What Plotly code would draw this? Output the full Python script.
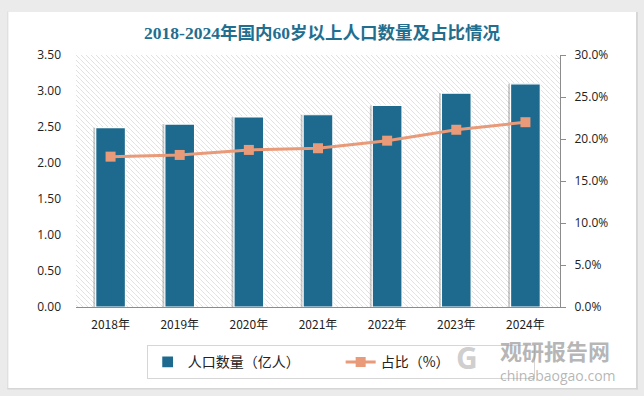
import base64
import plotly.graph_objects as go

years = ["2018年", "2019年", "2020年", "2021年", "2022年", "2023年", "2024年"]
population = [2.49, 2.54, 2.64, 2.67, 2.80, 2.97, 3.10]   # 亿人
share = [17.9, 18.1, 18.7, 18.9, 19.8, 21.1, 22.0]         # %
left_ticks = [0, 0.5, 1.0, 1.5, 2.0, 2.5, 3.0, 3.5]
right_ticks = [0, 5, 10, 15, 20, 25, 30]
right_labels = ["0.0%", "5.0%", "10.0%", "15.0%", "20.0%", "25.0%", "30.0%"]

BAR = "#1d6a8e"
LINE = "#e99a78"
CJK = "Noto Sans CJK SC, Open Sans, sans-serif"
NUM = "Open Sans, Noto Sans CJK SC, sans-serif"
OUT = "#ebebeb"

svg = ("<svg xmlns='http://www.w3.org/2000/svg' width='484' height='252'>"
       "<defs><pattern id='p' width='5' height='5' patternUnits='userSpaceOnUse'>"
       "<path d='M0,0 L5,5 M-1,4 L1,6 M4,-1 L6,1' stroke='#cfcfcf' stroke-width='0.9' "
       "stroke-dasharray='1,0.6'/>"
       "</pattern></defs><rect width='100%' height='100%' fill='white'/>"
       "<rect width='100%' height='100%' fill='url(#p)'/></svg>")
bg_src = "data:image/svg+xml;base64," + base64.b64encode(svg.encode()).decode()

fig = go.Figure()
# soft bar shadow
fig.add_trace(go.Bar(x=years, y=population, width=0.43, offset=-0.25,
                     marker=dict(color="rgba(60,60,60,0.28)", line=dict(width=0)),
                     showlegend=False, hoverinfo="skip"))
fig.add_trace(go.Bar(x=years, y=population, name="人口数量（亿人）", width=0.43, offset=-0.215,
                     marker=dict(color=BAR, line=dict(color="white", width=1.2))))
fig.add_trace(go.Scatter(x=years, y=share, name="占比（%）", yaxis="y2", mode="lines+markers",
                         line=dict(color=LINE, width=3),
                         marker=dict(symbol="square", size=10, color=LINE)))


def strip(x0, x1, y0, y1, color):
    return dict(type="rect", xref="paper", yref="paper", x0=x0, x1=x1, y0=y0, y1=y1,
                line=dict(width=0), fillcolor=color, layer="below")


fig.update_layout(
    width=644, height=396,
    margin=dict(l=76, r=84, t=55, b=89),
    paper_bgcolor="white", plot_bgcolor="rgba(0,0,0,0)",
    barmode="overlay",
    title=dict(text="<b>2018-2024年国内60岁以上人口数量及占比情况</b>",
               x=0.5, xanchor="center", y=1 - 33 / 396, yanchor="middle",
               font=dict(family="Liberation Serif, Noto Sans CJK SC, serif", size=17.5, color="#226e8f")),
    xaxis=dict(showgrid=False, showline=True, linecolor="#8c8c8c", linewidth=1.2,
               tickfont=dict(family=CJK, size=12, color="#222"), ticks="", ticklabelstandoff=6),
    yaxis=dict(range=[0, 3.5], tickvals=left_ticks, tickformat=".2f", showgrid=False,
               showline=False, zeroline=False, ticks="",
               tickfont=dict(family=NUM, size=12, color="#222"), ticklabelstandoff=14),
    yaxis2=dict(range=[0, 30], tickvals=right_ticks, ticktext=right_labels,
                overlaying="y", side="right", showgrid=False, zeroline=False,
                showline=True, linecolor="#8c8c8c", linewidth=1.2, ticks="outside", ticklen=5,
                tickcolor="#8c8c8c",
                tickfont=dict(family=NUM, size=12, color="#222"), ticklabelstandoff=6),
    legend=dict(orientation="h", x=0.146, xanchor="left", y=-0.152, yanchor="top",
                bordercolor="#d6d6d6", borderwidth=1, bgcolor="white",
                font=dict(family=CJK, size=14, color="#222"),
                entrywidth=148, itemwidth=30, traceorder="normal"),
    images=[dict(source=bg_src, xref="paper", yref="paper", x=0, y=1, sizex=1, sizey=1,
                 sizing="stretch", layer="below")],
    shapes=[
        strip(-0.20, -0.140, -0.40, 1.25, OUT),
        strip(1.157, 1.20, -0.40, 1.25, OUT),
        strip(-0.20, 1.20, 1.171, 1.25, OUT),
        strip(-0.20, 1.20, -0.40, -0.321, OUT),
        strip(-0.142, -0.140, -0.323, 1.173, "#dcdcdc"),
        strip(1.157, 1.161, -0.327, 1.171, "#d6d6d6"),
        strip(-0.142, 1.161, -0.327, -0.321, "#d6d6d6"),
    ],
    annotations=[
        dict(text="<b>观研报告网</b>", xref="paper", yref="paper", x=0.872, y=-0.171,
             xanchor="left", yanchor="middle", showarrow=False,
             font=dict(family=CJK, size=22, color="rgba(150,150,150,0.7)")),
        dict(text="chinabaogao.com", xref="paper", yref="paper", x=0.872, y=-0.272,
             xanchor="left", yanchor="middle", showarrow=False,
             font=dict(family=NUM, size=14, color="rgba(150,150,150,0.7)")),
        dict(text="<b>G</b>", xref="paper", yref="paper", x=0.808, y=-0.2,
             xanchor="center", yanchor="middle", showarrow=False,
             font=dict(family=NUM, size=30, color="rgba(165,165,165,0.55)")),
    ],
)

fig.write_html("out.html", config={"displayModeBar": False},
               post_script="document.body.style.margin='0';document.body.style.background='%s';" % OUT)
